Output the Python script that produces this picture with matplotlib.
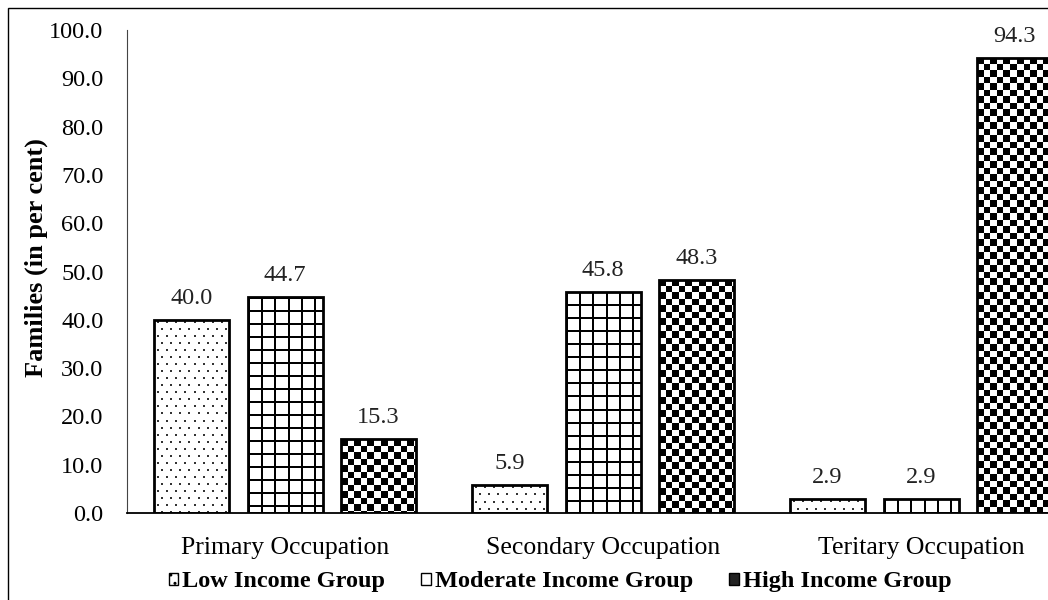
import matplotlib.pyplot as plt
import matplotlib.patches as mpatches
import numpy as np

plt.rcParams["font.family"] = ["Liberation Serif", "DejaVu Serif"]

occupations = ["Primary Occupation", "Secondary Occupation", "Teritary Occupation"]
groups = ["Low Income Group", "Moderate Income Group", "High Income Group"]
low_income = [40.0, 5.9, 2.9]
moderate_income = [44.7, 45.8, 2.9]
high_income = [15.3, 48.3, 94.3]
y_ticks = [0, 10, 20, 30, 40, 50, 60, 70, 80, 90, 100]


def dots(h, w):
    img = np.ones((h, w))
    for r in range(2, h, 7):
        shift = 4 if (r // 7) % 2 else 0
        for c in range(3 + shift, w - 1, 9):
            img[r:r + 2, c:c + 2] = 0.2
    return img


def grid(h, w):
    rows = np.arange(h)[:, None]
    cols = np.arange(w)[None, :]
    lines = ((rows % 13) < 2) | ((cols % 13) < 2)
    return np.where(lines, 0.0, 1.0)


def checker(h, w):
    rows = (np.arange(h)[:, None] / 6.5).astype(int)
    cols = (np.arange(w)[None, :] / 6.5).astype(int)
    return ((rows + cols) % 2).astype(float)


def fill_bars(ax, bars, pattern):
    # paint a pixel pattern inside each bar, clipped to the bar outline
    for bar in bars:
        bx, bw, bh = bar.get_x(), bar.get_width(), bar.get_height()
        (x0, y0), (x1, y1) = ax.transData.transform([(bx, 0), (bx + bw, bh)])
        w_px = max(int(round(x1 - x0)), 1)
        h_px = max(int(round(y1 - y0)), 1)
        im = ax.imshow(pattern(h_px, w_px), cmap="gray", vmin=0, vmax=1,
                       extent=(bx, bx + bw, 0, bh), origin="upper",
                       interpolation="nearest", aspect="auto", zorder=2)
        im.set_clip_path(bar)


W, H = 1048, 600
fig = plt.figure(figsize=(W / 100, H / 100), dpi=100)
ax = fig.add_axes([127 / W, 87 / H, 1 - 127 / W, (513 - 30) / H])

x = np.arange(len(occupations))
offset = 0.294
width = 0.236
xlim = (-0.497, 2.399)
ax.set_xlim(*xlim)
ax.set_ylim(0, 100)

series = [low_income, moderate_income, high_income]
patterns = [dots, grid, checker]
all_bars = []
for i, (vals, pat) in enumerate(zip(series, patterns)):
    bars = ax.bar(x + (i - 1) * offset, vals, width, facecolor="none",
                  edgecolor="black", linewidth=2, zorder=3)
    fill_bars(ax, bars, pat)
    all_bars.append(bars)

ax.set_xlim(*xlim)
ax.set_ylim(0, 100)

for bars, vals in zip(all_bars, series):
    for bar, v in zip(bars, vals):
        ax.text(bar.get_x() + bar.get_width() / 2, v + 3.3, f"{v:.1f}",
                ha="center", va="baseline", fontsize=17.5, color="#222222")

ax.set_yticks(y_ticks)
ax.set_yticklabels([f"{t:.1f}" for t in y_ticks], fontsize=17.5)
ax.set_xticks(x)
ax.set_xticklabels(occupations, fontsize=18.5)
ax.tick_params(axis="both", length=0)
ax.tick_params(axis="x", pad=17)
ax.tick_params(axis="y", pad=17)
ax.set_ylabel("Families (in per cent)", fontsize=19, fontweight="bold")
ax.yaxis.set_label_coords(-0.086, 0.529)
ax.spines["top"].set_visible(False)
ax.spines["right"].set_visible(False)
ax.spines["left"].set_color("#444444")
ax.spines["bottom"].set_linewidth(1.3)

handles = [
    mpatches.Patch(facecolor="white", edgecolor="black", hatch=".."),
    mpatches.Patch(facecolor="white", edgecolor="black"),
    mpatches.Patch(facecolor="#222222", edgecolor="black"),
]
fig.legend(handles, groups, loc="center", bbox_to_anchor=(560 / W, 1 - 582 / H),
           ncol=3, frameon=False, handlelength=0.4, handleheight=0.4,
           handletextpad=0.15, columnspacing=1.5,
           prop={"size": 17.5, "weight": "bold"})

# outer frame line
fig.patches.append(mpatches.Rectangle((8 / W, -0.05), 1.1, 1.05 - 8 / H,
                                      transform=fig.transFigure, fill=False,
                                      edgecolor="black", linewidth=1))

fig.savefig("out.png", dpi=100)
